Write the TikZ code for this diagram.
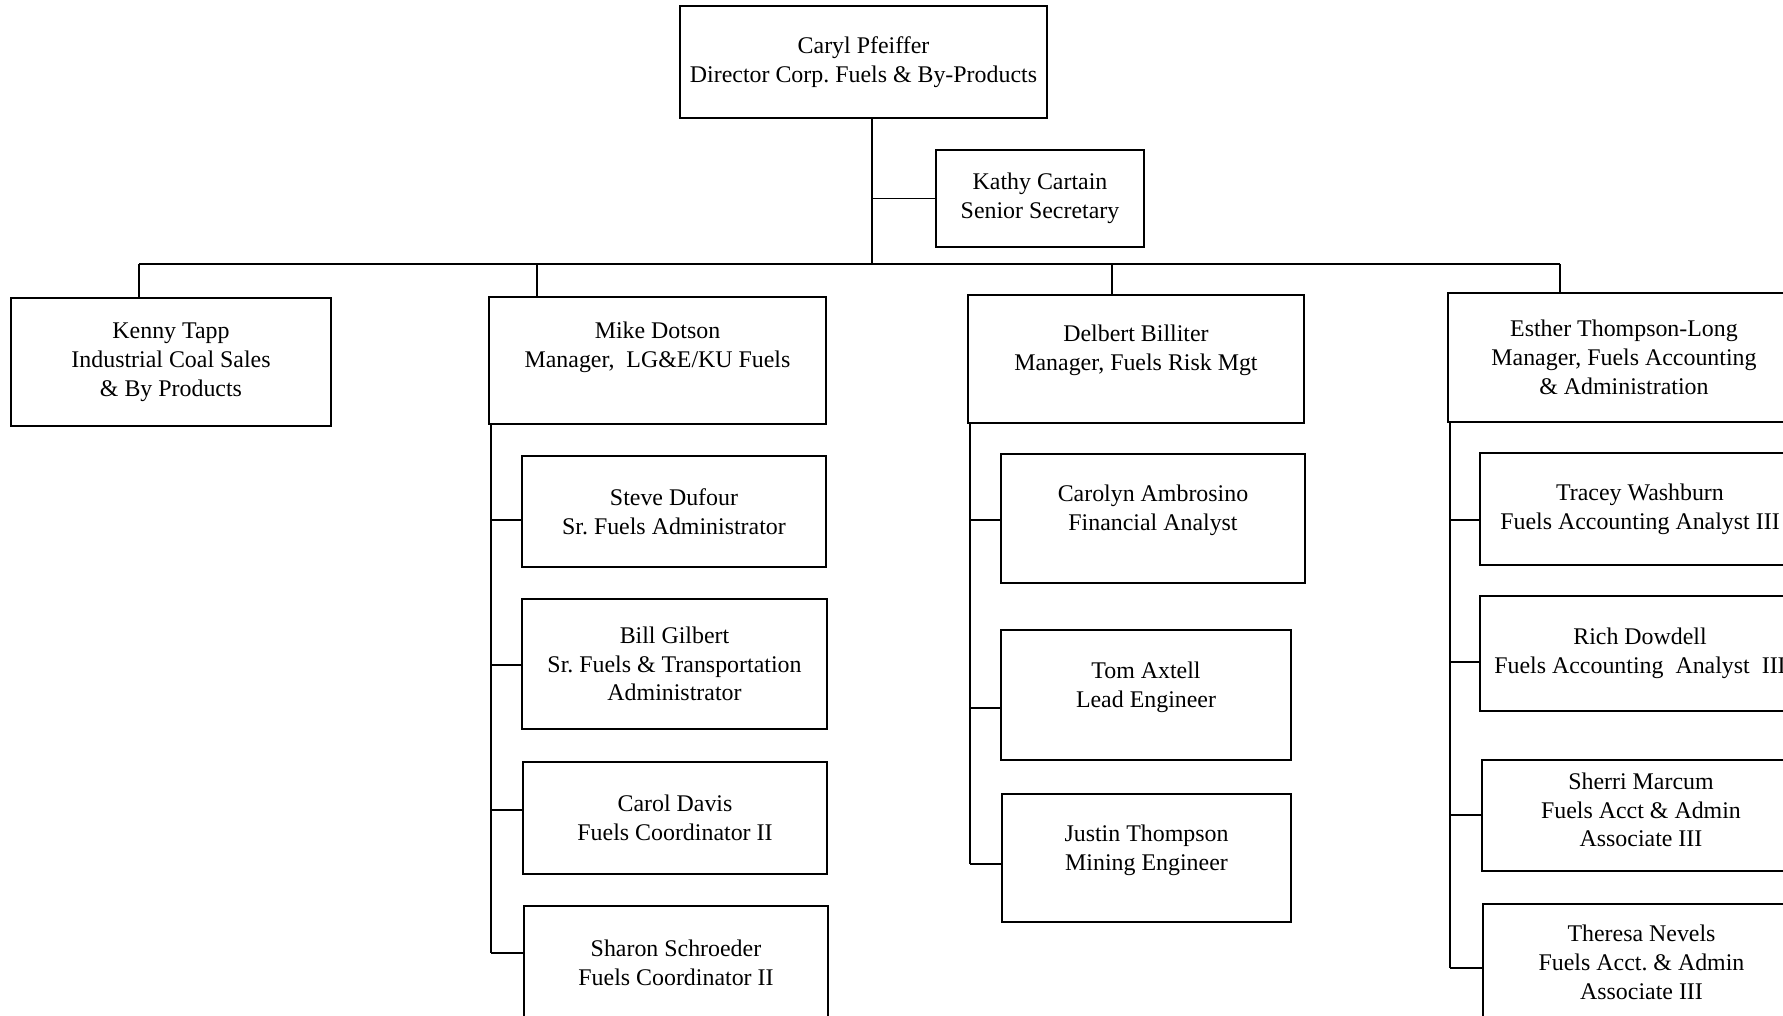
\documentclass[tikz,border=0pt]{standalone}
\usepackage{fontspec}
\setmainfont{Liberation Serif}
\frenchspacing

\begin{document}
\begin{tikzpicture}[x=0.02cm,y=-0.02cm]
\tikzstyle{every node}+=[inner sep=0pt]
\tikzstyle{box}=[draw, line width=1pt, align=center, font=\fontsize{13.6}{16.4}\selectfont]
\tikzstyle{link}=[line width=0.9pt]
\useasboundingbox (0,0) rectangle (1783,1015);
\clip (0,0) rectangle (1783,1015);
% top
\node [box, minimum width=7.34cm, minimum height=2.24cm] (caryl) at (863.5,62) {Caryl Pfeiffer\\Director Corp. Fuels \& By-Products};
\node [box, minimum width=4.16cm, minimum height=1.94cm] (kathy) at (1040,198.5) {Kathy Cartain\\Senior Secretary};
% managers
\node [box, minimum width=6.4cm, minimum height=2.56cm] (kenny) at (171,362) {Kenny Tapp\\Industrial Coal Sales\\\& By Products};
\node [box, minimum width=6.74cm, minimum height=2.54cm, text depth=18.4pt] (mike) at (657.5,360.5) {Mike Dotson\\Manager,\ \ LG\&E/KU Fuels};
\node [box, minimum width=6.72cm, minimum height=2.56cm, text depth=12.6pt] (delbert) at (1136,359) {Delbert Billiter\\Manager, Fuels Risk Mgt};
\node [box, minimum width=7.04cm, minimum height=2.58cm] (esther) at (1624,357.5) {Esther Thompson-Long\\Manager, Fuels Accounting\\\& Administration};
% under Mike Dotson
\node [box, minimum width=6.08cm, minimum height=2.22cm] (steve) at (674,511.5) {Steve Dufour\\Sr. Fuels Administrator};
\node [box, minimum width=6.1cm, minimum height=2.6cm] (bill) at (674.5,664) {Bill Gilbert\\Sr. Fuels \& Transportation\\Administrator};
\node [box, minimum width=6.08cm, minimum height=2.24cm] (carol) at (675,818) {Carol Davis\\Fuels Coordinator II};
\node [box, minimum width=6.08cm, minimum height=2.28cm] (sharon) at (676,963) {Sharon Schroeder\\Fuels Coordinator II};
% under Delbert Billiter
\node [box, minimum width=6.08cm, minimum height=2.58cm, text depth=12.6pt] (carolyn) at (1153,518.5) {Carolyn Ambrosino\\Financial Analyst};
\node [box, minimum width=5.8cm, minimum height=2.6cm, text depth=12pt] (tom) at (1146,695) {Tom Axtell\\Lead Engineer};
\node [box, minimum width=5.78cm, minimum height=2.56cm, text depth=12pt] (justin) at (1146.5,858) {Justin Thompson\\Mining Engineer};
% under Esther Thompson-Long
\node [box, minimum width=6.4cm, minimum height=2.24cm] (tracey) at (1640,509) {Tracey Washburn\\Fuels Accounting Analyst III};
\node [box, minimum width=6.4cm, minimum height=2.3cm] (rich) at (1640,653.5) {Rich Dowdell\\Fuels Accounting\ \ Analyst\ \ III};
\node [box, minimum width=6.36cm, minimum height=2.22cm, text depth=6.4pt] (sherri) at (1641,815.5) {Sherri Marcum\\Fuels Acct \& Admin\\Associate III};
\node [box, minimum width=6.34cm, minimum height=2.32cm] (theresa) at (1641.5,962) {Theresa Nevels\\Fuels Acct. \& Admin\\Associate III};
% lines
\coordinate (trunk) at (872,264);
\coordinate (d1) at (139,264);
\coordinate (d2) at (537,264);
\coordinate (d3) at (1112,264);
\coordinate (d4) at (1560,264);
\draw [link] (caryl.south -| trunk) -- (trunk);
\draw [link] (kathy.west) -- (kathy.west -| trunk);
\draw [link] (d1) -- (d4);
\draw [link] (d1) -- (d1 |- kenny.north);
\draw [link] (d2) -- (d2 |- mike.north);
\draw [link] (d3) -- (d3 |- delbert.north);
\draw [link] (d4) -- (d4 |- esther.north);
\coordinate (mr) at (491,424);
\draw [link] (mr) -- (mr |- 0,953);
\foreach \n/\y in {steve/520,bill/665,carol/810,sharon/953}
  \draw [link] (mr |- 0,\y) -- (\n.west |- 0,\y);
\coordinate (dr) at (970,423);
\draw [link] (dr) -- (dr |- 0,864);
\foreach \n/\y in {carolyn/520,tom/708,justin/864}
  \draw [link] (dr |- 0,\y) -- (\n.west |- 0,\y);
\coordinate (er) at (1450,422);
\draw [link] (er) -- (er |- 0,968);
\foreach \n/\y in {tracey/520,rich/662,sherri/815,theresa/968}
  \draw [link] (er |- 0,\y) -- (\n.west |- 0,\y);
\end{tikzpicture}
\end{document}
